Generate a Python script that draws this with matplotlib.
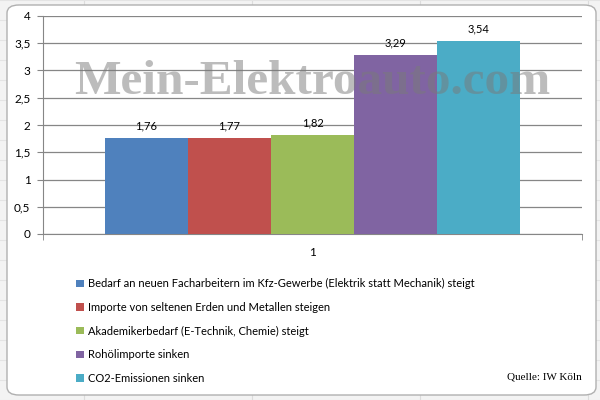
import matplotlib
matplotlib.use("Agg")
import matplotlib.pyplot as plt
from matplotlib.patches import FancyBboxPatch, Patch

series = [
    "Bedarf an neuen Facharbeitern im Kfz-Gewerbe (Elektrik statt Mechanik) steigt",
    "Importe von seltenen Erden und Metallen steigen",
    "Akademikerbedarf (E-Technik, Chemie) steigt",
    "Rohölimporte sinken",
    "CO2-Emissionen sinken",
]
values = [1.76, 1.77, 1.82, 3.29, 3.54]
value_labels = ["1,76", "1,77", "1,82", "3,29", "3,54"]
colors = ["#4f81bd", "#c0504d", "#9bbb59", "#8064a2", "#4bacc6"]
yticks = [0, 0.5, 1, 1.5, 2, 2.5, 3, 3.5, 4]
ytick_labels = ["0", "0,5", "1", "1,5", "2", "2,5", "3", "3,5", "4"]
category = "1"

fig = plt.figure(figsize=(6, 4), dpi=100)
fig.patch.set_facecolor("#f3f3f3")

# spreadsheet-like background grid
for xg in [0.14, 0.42, 0.70, 0.98]:
    fig.add_artist(plt.Line2D([xg, xg], [0, 1], color="#dcdcdc", lw=0.8,
                              transform=fig.transFigure, zorder=-3))
for yg in [0.05 * i for i in range(21)]:
    fig.add_artist(plt.Line2D([0, 1], [yg, yg], color="#e4e4e4", lw=0.8,
                              transform=fig.transFigure, zorder=-3))

frame = FancyBboxPatch((7 / 600, 5 / 400), 589 / 600, 390 / 400,
                       boxstyle="round,pad=0,rounding_size=0.02",
                       transform=fig.transFigure, facecolor="white",
                       edgecolor="#b0b0b0", lw=1.0, zorder=-2)
fig.add_artist(frame)

ax = fig.add_axes([43 / 600, 1 - 234 / 400, 539 / 600, 218 / 400])
ax.set_facecolor("none")
ax.set_xlim(0, 1)
ax.set_ylim(0, 4)

FONT = "Lato"
n = len(values)
w = 0.154
start = 0.5 - n * w / 2
for i, (v, lab, c) in enumerate(zip(values, value_labels, colors)):
    x = start + (i + 0.5) * w
    ax.bar(x, v, width=w, color=c, zorder=3)
    ax.text(x, v + 0.12, lab, ha="center", va="bottom", fontsize=8, family=FONT, zorder=4)

ax.set_yticks(yticks)
ax.set_yticklabels(ytick_labels, fontsize=8.5, family=FONT)
ax.yaxis.grid(True, color="#868686", lw=0.9, zorder=0)
ax.set_xticks([0.5])
ax.set_xticklabels([category], fontsize=8.5, family=FONT)
ax.tick_params(axis="x", length=0, pad=9)
ax.set_xticks([0, 1], minor=True)
ax.tick_params(axis="x", which="minor", length=4, color="#868686")
ax.tick_params(axis="y", length=4, color="#868686", pad=5)
for s in ["top", "right"]:
    ax.spines[s].set_visible(False)
for s in ["left", "bottom"]:
    ax.spines[s].set_color("#868686")

ax.text(0.5, 2.78, "Mein-Elektroauto.com", ha="center", va="center",
        fontsize=35.5, fontweight="bold", family="Liberation Serif",
        color="#7a7a7a", alpha=0.5, zorder=5)

handles = [Patch(facecolor=c, edgecolor="none") for c in colors]
fig.legend(handles, series, loc="upper left", bbox_to_anchor=(72 / 600, 1 - 274 / 400),
           frameon=False, prop={"family": FONT, "size": 8}, handlelength=0.65,
           handleheight=0.65, handletextpad=0.4, labelspacing=1.13, borderaxespad=0)

fig.text(582 / 600, 1 - 377 / 400, "Quelle: IW Köln", ha="right", va="center",
         fontsize=8, family="Liberation Serif")

fig.savefig("out.png", dpi=100)
